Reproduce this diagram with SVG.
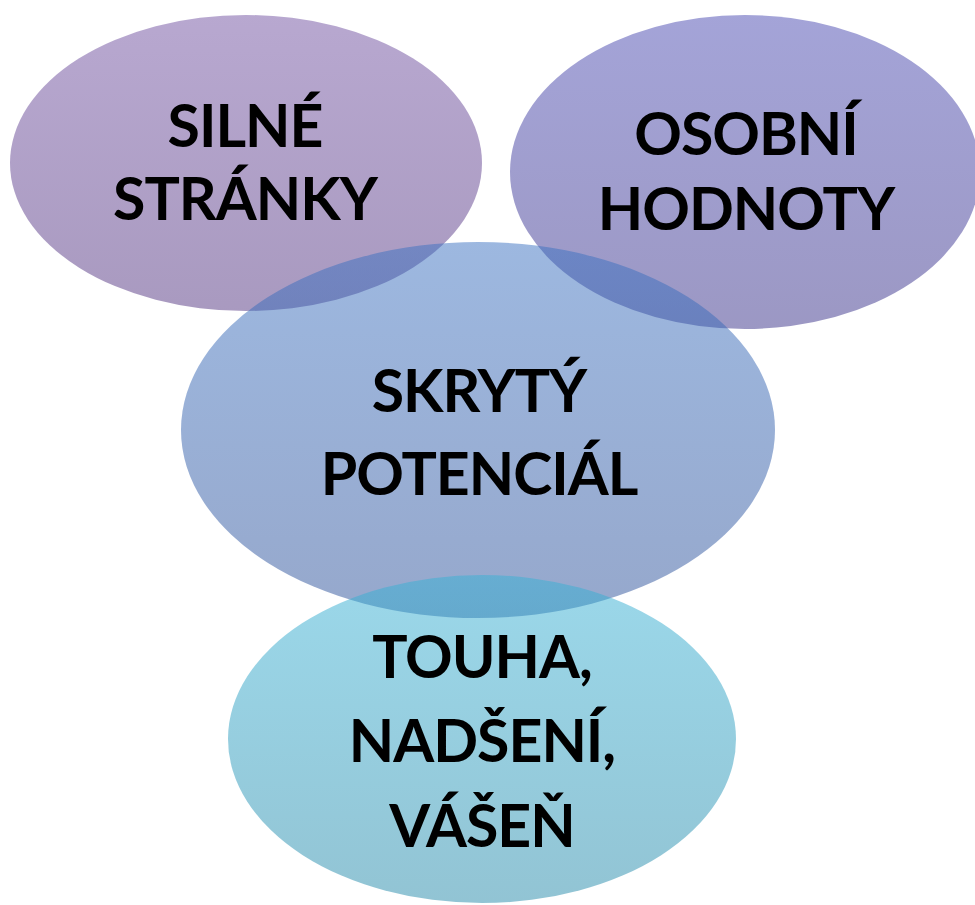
<svg xmlns="http://www.w3.org/2000/svg" width="975" height="905" viewBox="0 0 975 905">
<defs>
<linearGradient id="g1" x1="0" y1="0" x2="0" y2="1"><stop offset="0" stop-color="#7151a1"/><stop offset="1" stop-color="#533581"/></linearGradient>
<linearGradient id="g2" x1="0" y1="0" x2="0" y2="1"><stop offset="0" stop-color="#4949b1"/><stop offset="1" stop-color="#393189"/></linearGradient>
<linearGradient id="g3" x1="0" y1="0" x2="0" y2="1"><stop offset="0" stop-color="#3b71c1"/><stop offset="1" stop-color="#2d5199"/></linearGradient>
<linearGradient id="g4" x1="0" y1="0" x2="0" y2="1"><stop offset="0" stop-color="#37b1d5"/><stop offset="1" stop-color="#2589a9"/></linearGradient>
<style>
.bub{fill-opacity:0.5}
.lbl{font-family:Lato,"Liberation Sans",sans-serif;font-weight:bold;font-size:59px;letter-spacing:-1px;fill:#000;text-anchor:middle}
</style>
</defs>
<rect width="975" height="905" fill="#fff"/>
<g id="silne-stranky"><ellipse class="bub" cx="246" cy="163" rx="236" ry="148" fill="url(#g1)"/></g>
<g id="osobni-hodnoty"><ellipse class="bub" cx="745" cy="172" rx="235" ry="157" fill="url(#g2)"/></g>
<g id="skryty-potencial"><ellipse class="bub" cx="478" cy="430" rx="297" ry="188" fill="url(#g3)"/></g>
<g id="touha"><ellipse class="bub" cx="482" cy="739" rx="254" ry="164" fill="url(#g4)"/></g>
<g id="connectors"></g>
<g id="labels">
<text class="lbl" x="245" y="147">SILNÉ</text>
<text class="lbl" x="245" y="220">STRÁNKY</text>
<text class="lbl" x="746" y="155">OSOBNÍ</text>
<text class="lbl" x="746" y="230">HODNOTY</text>
<text class="lbl" x="479" y="412">SKRYTÝ</text>
<text class="lbl" x="479" y="495">POTENCIÁL</text>
<text class="lbl" x="482" y="678">TOUHA,</text>
<text class="lbl" x="482" y="762">NADŠENÍ,</text>
<text class="lbl" x="482" y="847">VÁŠEŇ</text>
</g>
</svg>
